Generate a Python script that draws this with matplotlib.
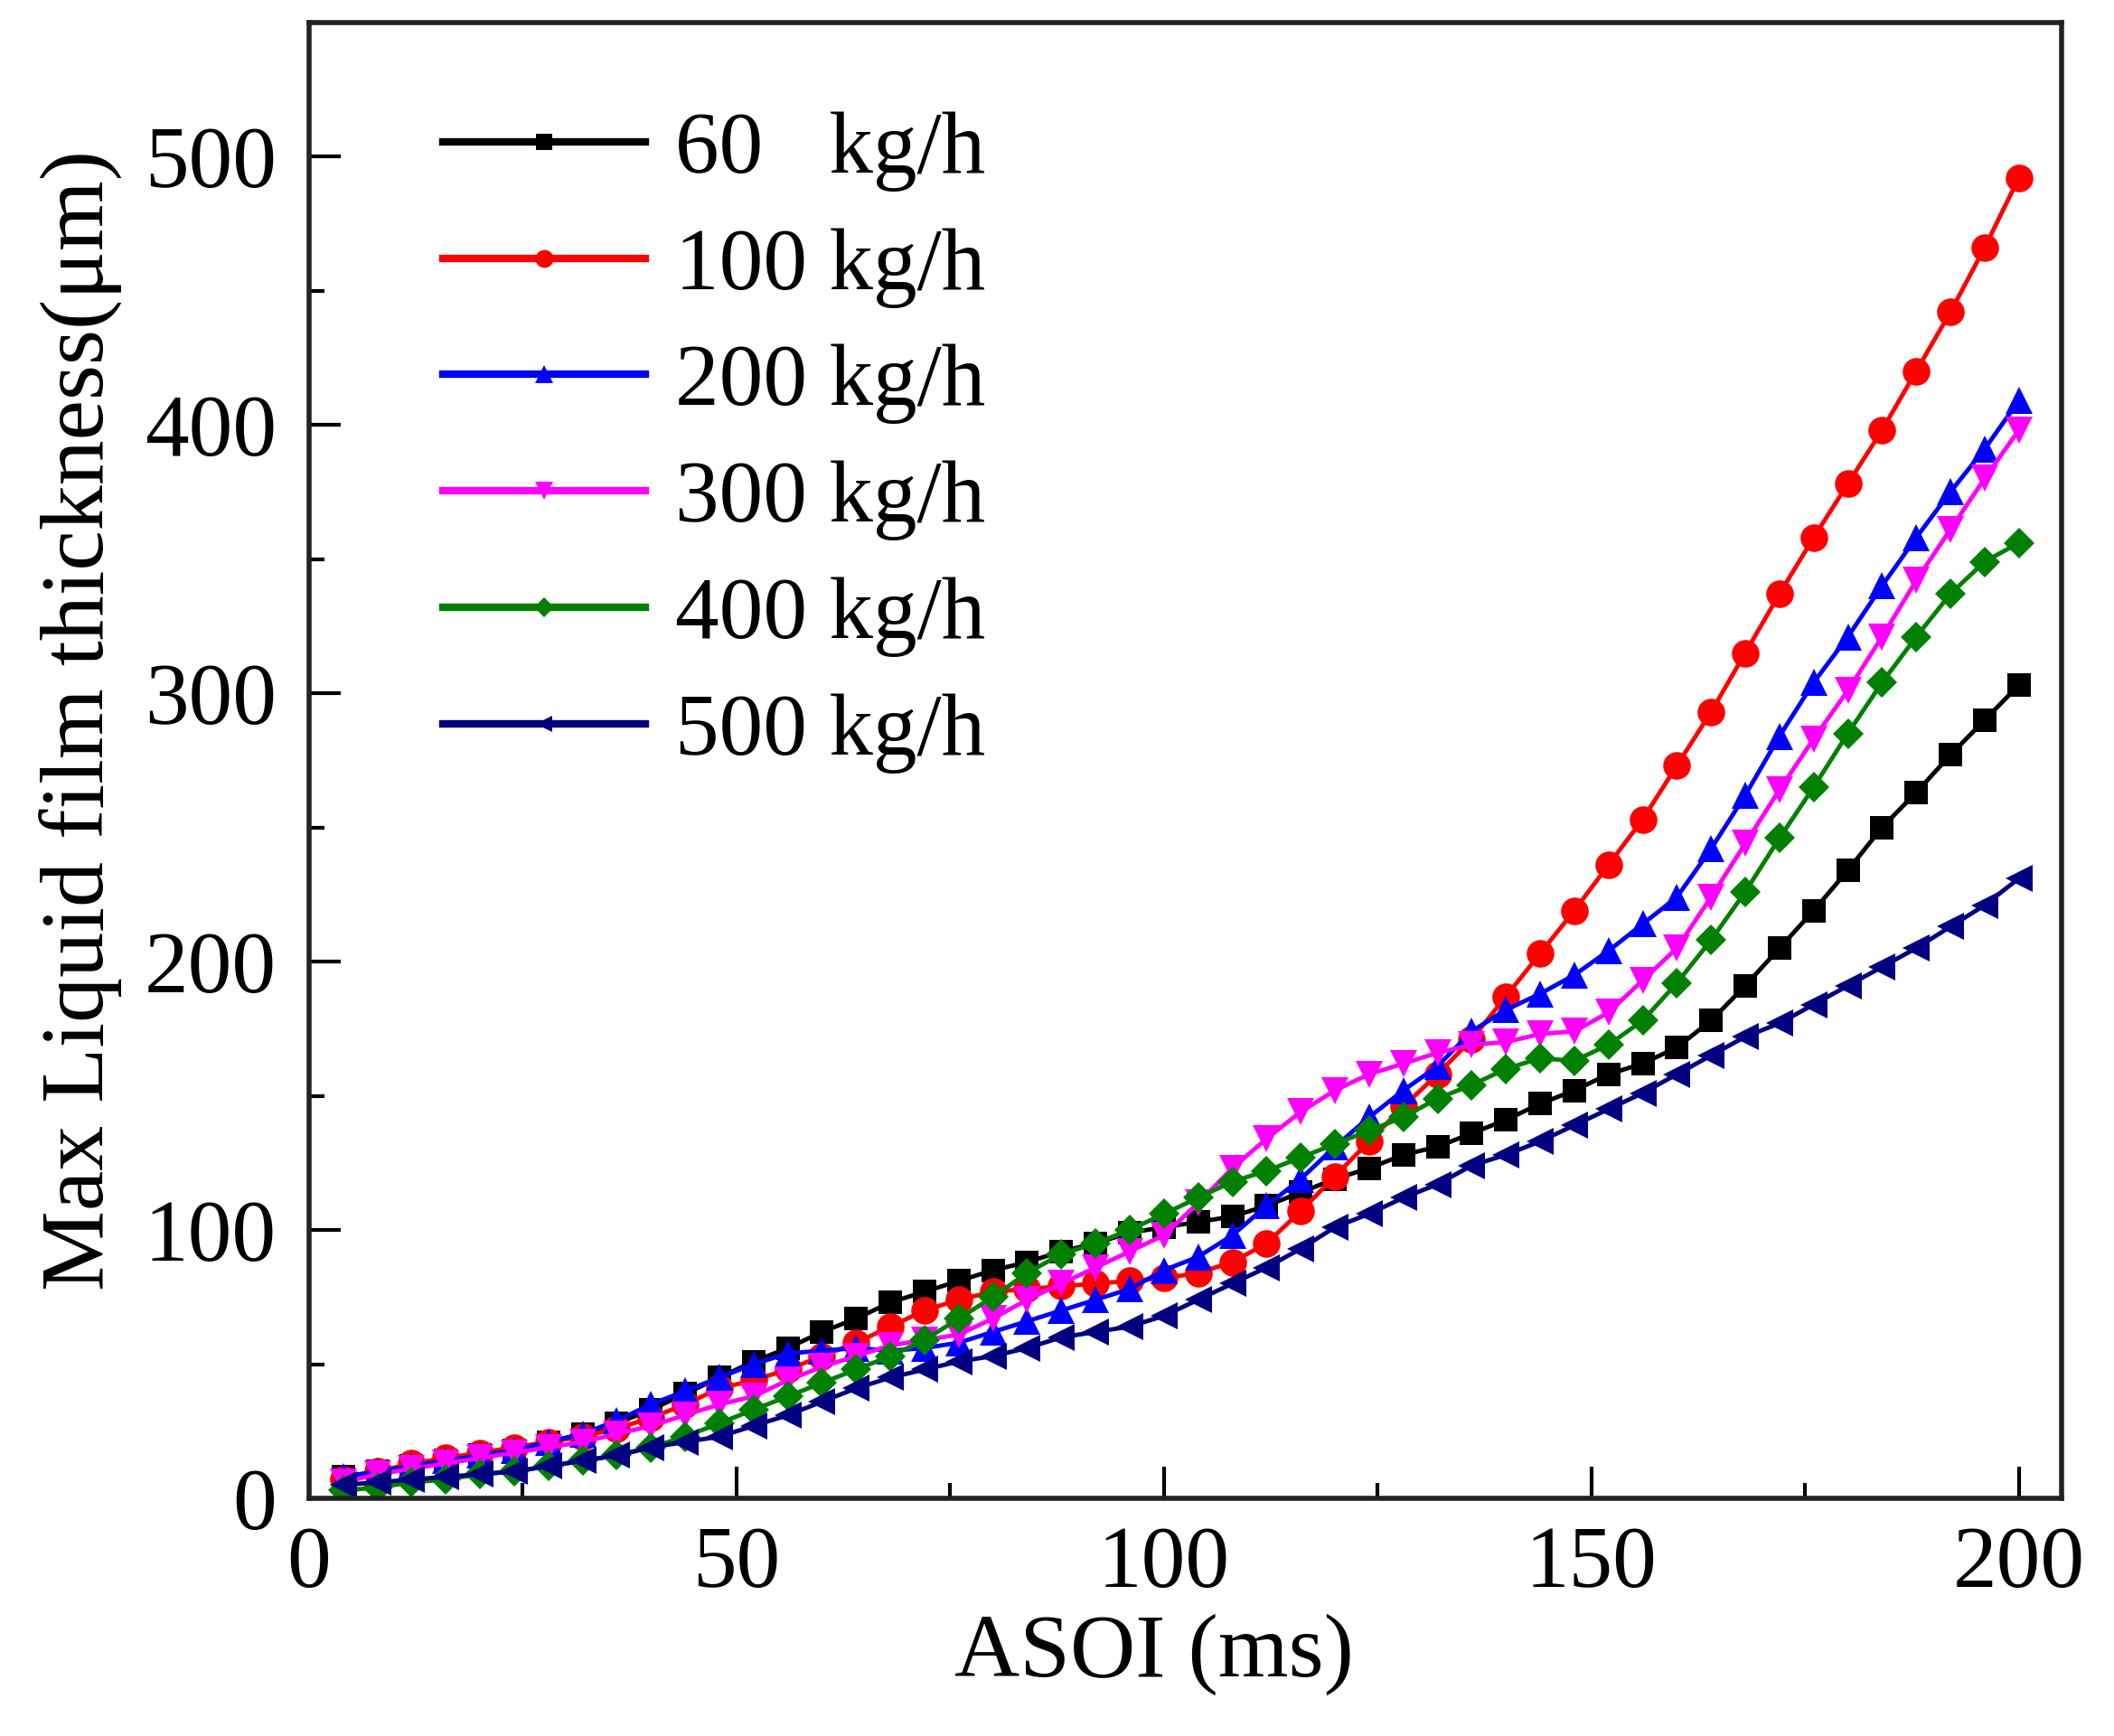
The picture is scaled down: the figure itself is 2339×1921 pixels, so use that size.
import matplotlib
matplotlib.use("Agg")
import matplotlib.pyplot as plt
from matplotlib.ticker import MultipleLocator

plt.rcParams['font.family'] = ['Liberation Serif', 'DejaVu Serif']
plt.rcParams['mathtext.fontset'] = 'stix'

asoi = [4, 8, 12, 16, 20, 24, 28, 32, 36, 40, 44, 48, 52, 56, 60, 64, 68, 72, 76, 80,
        84, 88, 92, 96, 100, 104, 108, 112, 116, 120, 124, 128, 132, 136, 140, 144, 148,
        152, 156, 160, 164, 168, 172, 176, 180, 184, 188, 192, 196, 200]

film_60 = [8, 10, 12, 14, 16, 18, 21, 24, 28, 33, 39, 45, 51, 56, 62, 67, 73, 77, 81, 85,
           88, 92, 95, 99, 101, 103, 105, 109, 114, 119, 123, 128, 131, 136, 141, 147, 152,
           158, 162, 168, 178, 191, 205, 219, 234, 250, 263, 277, 290, 303]
film_100 = [7, 10, 13, 15, 17, 19, 21, 23, 26, 30, 35, 41, 44, 48, 53, 58, 64, 70, 74, 77,
            78, 79, 80, 81, 82, 84, 88, 95, 107, 120, 133, 146, 158, 171, 187, 203, 219,
            236, 253, 273, 293, 315, 337, 358, 378, 398, 420, 442, 466, 492]
film_200 = [8, 10, 12, 14, 16, 18, 21, 24, 29, 35, 40, 45, 50, 54, 55, 56, 55, 56, 58, 62,
            66, 70, 74, 78, 85, 90, 98, 109, 119, 131, 142, 152, 161, 174, 182, 188, 195,
            204, 214, 224, 242, 262, 284, 304, 321, 340, 358, 375, 391, 409]
film_300 = [6, 9, 11, 13, 15, 17, 19, 21, 24, 27, 31, 35, 38, 44, 49, 53, 57, 59, 61, 67,
            74, 80, 86, 92, 98, 110, 123, 134, 144, 152, 158, 162, 166, 169, 170, 173, 174,
            181, 193, 205, 224, 244, 264, 283, 301, 321, 342, 361, 380, 398]
film_400 = [3, 4, 6, 7, 9, 10, 12, 14, 16, 19, 23, 28, 33, 38, 43, 48, 53, 59, 67, 75,
            84, 91, 95, 100, 106, 112, 118, 122, 127, 132, 137, 142, 149, 154, 160, 164, 163,
            169, 178, 192, 208, 226, 246, 265, 285, 304, 321, 337, 349, 356]
film_500 = [5, 6, 7, 8, 9, 10, 12, 14, 16, 19, 21, 23, 27, 31, 36, 41, 45, 48, 51, 53,
            56, 60, 62, 64, 68, 74, 80, 86, 93, 101, 106, 112, 117, 124, 128, 133, 139,
            145, 151, 158, 165, 172, 177, 184, 191, 198, 205, 213, 221, 231]

labels = ["60   kg/h", "100 kg/h", "200 kg/h", "300 kg/h", "400 kg/h", "500 kg/h"]
series = [film_60, film_100, film_200, film_300, film_400, film_500]
colors = ['#000000', '#FF0000', '#0000FF', '#FF00FF', '#008000', '#000080']
markers = ['s', 'o', '^', 'v', 'D', '<']
msizes = [19, 22, 22, 22, 17, 21]

fig = plt.figure(figsize=(23.39, 19.21), dpi=100)
ax = fig.add_axes([0.1462, 0.1369, 0.9752 - 0.1462, 0.9872 - 0.1369])

for y, lab, c, m, ms in zip(series, labels, colors, markers, msizes):
    ax.plot(asoi, y, color=c, marker=m, markersize=ms, linewidth=3.5,
            markeredgewidth=0, label=lab)

ax.set_xlim(0, 205)
ax.set_ylim(0, 550)
ax.xaxis.set_major_locator(MultipleLocator(50))
ax.xaxis.set_minor_locator(MultipleLocator(25))
ax.yaxis.set_major_locator(MultipleLocator(100))
ax.yaxis.set_minor_locator(MultipleLocator(50))
ax.tick_params(which='both', direction='in', top=False, right=False, width=3)
ax.tick_params(which='major', length=25, labelsize=70)
ax.tick_params(axis='y', which='major', pad=26)
ax.tick_params(axis='x', which='major', pad=22)
ax.tick_params(which='minor', length=12)
for sp in ax.spines.values():
    sp.set_linewidth(4)
    sp.set_color('#222222')

ax.set_xlabel("ASOI (ms)", fontsize=72)
ax.set_ylabel("Max Liquid film thickness(μm)", fontsize=72)
ax.xaxis.set_label_coords(0.482, -0.078)
ax.yaxis.set_label_coords(-0.106, 0.527)

leg = ax.legend(loc='upper left', bbox_to_anchor=(0.0763, 0.940), frameon=False,
                fontsize=70, handlelength=2.3, handletextpad=0.34, labelspacing=0.41,
                borderpad=0, borderaxespad=0, markerscale=0.65)
for h in leg.legend_handles:
    h.set_linewidth(6)

fig.savefig("out.png", dpi=100)
